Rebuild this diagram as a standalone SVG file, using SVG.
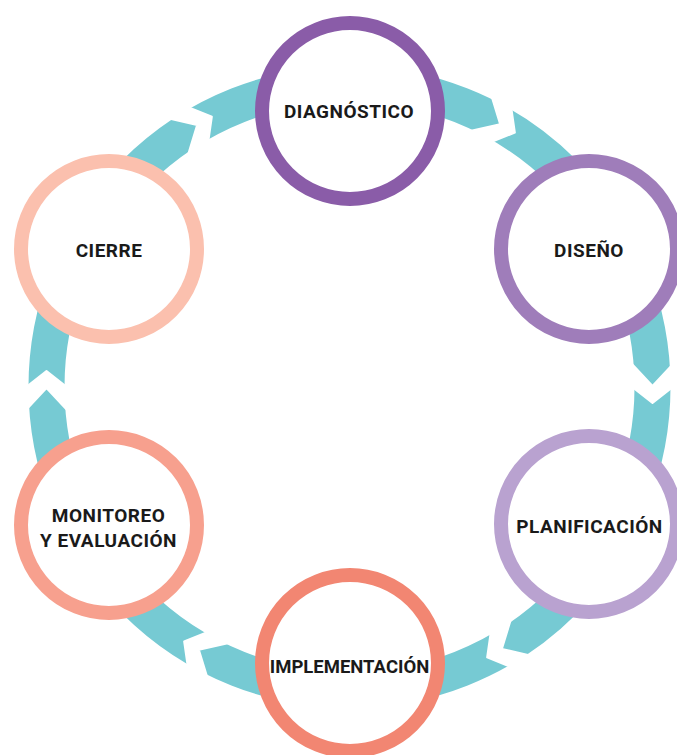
<svg xmlns="http://www.w3.org/2000/svg" width="677" height="755" viewBox="0 0 677 755">
<defs>
<style>
.ring{fill:none;stroke:#76CAD3;stroke-width:36}
.gap{fill:#fff;stroke:#fff;stroke-width:2;stroke-linejoin:round}
.node{fill:#fff;stroke-width:14}
.lbl{font-family:Roboto,"Liberation Sans",sans-serif;font-weight:700;font-size:19px;letter-spacing:0.5px;fill:#1a1a1a;text-anchor:middle}
.tight{letter-spacing:0;font-size:18.5px}
</style>
<polygon id="chev" class="gap" points="-28,-31 0,-1 28,-31 28,-6 0,16 -28,-6"/>
</defs>
<rect width="677" height="755" fill="#fff"/>
<g id="connectors">
<circle class="ring" cx="349.5" cy="387" r="303"/>
<use href="#chev" transform="translate(652.5,387) rotate(0)"/>
<use href="#chev" transform="translate(501,649.4) rotate(60)"/>
<use href="#chev" transform="translate(198,649.4) rotate(120)"/>
<use href="#chev" transform="translate(46.5,387) rotate(180)"/>
<use href="#chev" transform="translate(198,124.6) rotate(240)"/>
<use href="#chev" transform="translate(501,124.6) rotate(300)"/>
</g>
<g id="diagnostico">
<circle class="node" cx="350" cy="111" r="88" stroke="#8A5CA8"/>
<text class="lbl" x="349" y="118">DIAGNÓSTICO</text>
</g>
<g id="diseno">
<circle class="node" cx="589" cy="249" r="88" stroke="#9F7DBA"/>
<text class="lbl" x="589" y="257">DISEÑO</text>
</g>
<g id="planificacion">
<circle class="node" cx="589" cy="524" r="88" stroke="#B9A2D0"/>
<text class="lbl" x="589.5" y="533">PLANIFICACIÓN</text>
</g>
<g id="implementacion">
<circle class="node" cx="350" cy="663" r="88" stroke="#F28672"/>
<text class="lbl tight" x="349.5" y="673">IMPLEMENTACIÓN</text>
</g>
<g id="monitoreo">
<circle class="node" cx="109" cy="525" r="88" stroke="#F7A08E"/>
<text class="lbl" x="108.5" y="522">MONITOREO</text>
<text class="lbl" x="108.5" y="547">Y EVALUACIÓN</text>
</g>
<g id="cierre">
<circle class="node" cx="109" cy="249" r="88" stroke="#FBC0AE"/>
<text class="lbl" x="109" y="257">CIERRE</text>
</g>
</svg>
